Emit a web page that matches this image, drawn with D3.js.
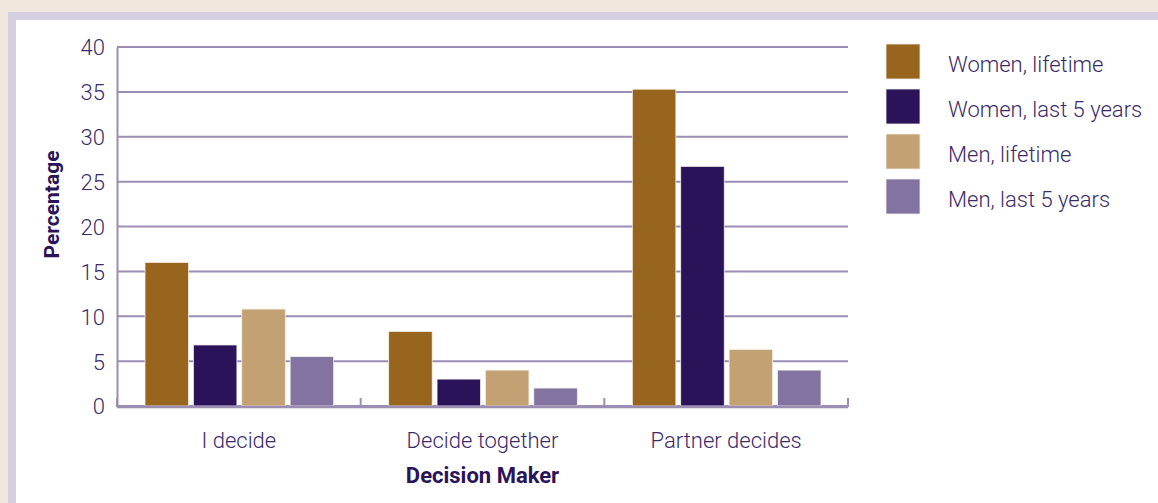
<!DOCTYPE html>
<html>
<head>
<meta charset="utf-8">
<script src="https://cdn.jsdelivr.net/npm/d3@7"></script>
<style>
  body { margin: 0; background: #f0e8dc; }
  svg { display: block; font-family: "Roboto", "Liberation Sans", sans-serif; }
</style>
</head>
<body>
<div id="chart"></div>
<script>
// data
const categories = ["I decide", "Decide together", "Partner decides"];
const seriesNames = ["Women, lifetime", "Women, last 5 years", "Men, lifetime", "Men, last 5 years"];
const womenLifetime = [16.0, 8.3, 35.3];
const womenLast5 = [6.8, 3.0, 26.7];
const menLifetime = [10.8, 4.0, 6.3];
const menLast5 = [5.5, 2.0, 4.0];
const yTicks = [0, 5, 10, 15, 20, 25, 30, 35, 40];

const seriesValues = [womenLifetime, womenLast5, menLifetime, menLast5];
const colors = ["#98651e", "#2b1359", "#c4a173", "#8273a0"];
const textColor = "#3b2a6b";
const gridColor = "#9b8db3";

const width = 1158, height = 503;
const margin = {top: 47, right: 310, bottom: 97, left: 117};
const plotW = width - margin.left - margin.right;
const plotH = height - margin.top - margin.bottom;

const svg = d3.select("#chart").append("svg")
  .attr("width", width)
  .attr("height", height);

// frame: beige page, lavender border, white panel
svg.append("rect").attr("x", 0).attr("y", 0).attr("width", width).attr("height", height).attr("fill", "#f0e8dc");
svg.append("rect").attr("x", 8).attr("y", 12).attr("width", width).attr("height", height).attr("fill", "#d5d0e1");
svg.append("rect").attr("x", 16).attr("y", 20).attr("width", width).attr("height", height).attr("fill", "#ffffff");

const main = svg.append("g")
  .attr("transform", "translate(" + margin.left + "," + margin.top + ")");

const x0 = d3.scaleBand().domain(categories).range([0, plotW]);
const x1 = d3.scaleBand().domain(seriesNames).range([28, x0.bandwidth() - 27]).paddingInner(0.1);
const y = d3.scaleLinear().domain([0, 40]).range([plotH, 0]);

// grid lines
main.append("g")
  .selectAll("line")
  .data(yTicks)
  .join("line")
  .attr("x1", 0).attr("x2", plotW)
  .attr("y1", d => y(d)).attr("y2", d => y(d))
  .attr("stroke", gridColor)
  .attr("stroke-width", 2);

// y axis
const yAxis = d3.axisLeft(y).tickValues(yTicks).tickSize(0).tickPadding(12);
const yG = main.append("g").call(yAxis);
yG.select(".domain").attr("stroke", gridColor).attr("stroke-width", 2);
yG.selectAll("text")
  .attr("fill", textColor)
  .style("font-size", "22px")
  .style("font-weight", "300")
  .style("font-family", "Roboto, sans-serif")
  .attr("dy", "0.36em");

// bars
const groups = main.append("g")
  .selectAll("g")
  .data(categories)
  .join("g")
  .attr("transform", d => "translate(" + x0(d) + ",0)");

groups.selectAll("rect")
  .data((d, i) => seriesNames.map((s, j) => ({series: s, value: seriesValues[j][i], color: colors[j]})))
  .join("rect")
  .attr("x", d => x1(d.series))
  .attr("width", x1.bandwidth())
  .attr("y", d => y(d.value))
  .attr("height", d => plotH - y(d.value))
  .attr("fill", d => d.color)
  .attr("stroke", "#f3eee8")
  .attr("stroke-width", 0.8);

// x axis with upward ticks at band edges
main.append("line")
  .attr("x1", 0).attr("x2", plotW)
  .attr("y1", plotH + 1).attr("y2", plotH + 1)
  .attr("stroke", gridColor).attr("stroke-width", 2.5);

const edges = categories.map(c => x0(c)).concat([plotW]);
main.append("g")
  .selectAll("line")
  .data(edges)
  .join("line")
  .attr("x1", d => d).attr("x2", d => d)
  .attr("y1", plotH + 1).attr("y2", plotH - 8)
  .attr("stroke", gridColor).attr("stroke-width", 2);

main.append("g")
  .selectAll("text")
  .data(categories)
  .join("text")
  .attr("x", d => x0(d) + x0.bandwidth() / 2)
  .attr("y", plotH + 42)
  .attr("text-anchor", "middle")
  .attr("fill", textColor)
  .style("font-size", "22px")
  .style("font-weight", "300")
  .text(d => d);

// axis titles
main.append("text")
  .attr("x", x0("Decide together") + x0.bandwidth() / 2)
  .attr("y", plotH + 77)
  .attr("text-anchor", "middle")
  .attr("fill", "#2b1359")
  .style("font-size", "22px")
  .style("font-weight", "bold")
  .text("Decision Maker");

main.append("text")
  .attr("transform", "rotate(-90)")
  .attr("x", -(plotH / 2) + 22)
  .attr("y", -58)
  .attr("text-anchor", "middle")
  .attr("fill", "#2b1359")
  .style("font-size", "21px")
  .style("font-weight", "bold")
  .text("Percentage");

// legend
const legend = svg.append("g").attr("transform", "translate(886,44)");
const legendItems = legend.selectAll("g")
  .data(seriesNames)
  .join("g")
  .attr("transform", (d, i) => "translate(0," + (i * 45) + ")");

legendItems.append("rect")
  .attr("width", 34).attr("height", 35)
  .attr("fill", (d, i) => colors[i])
  .attr("stroke", "#f3eee8").attr("stroke-width", 0.8);

legendItems.append("text")
  .attr("x", 62)
  .attr("y", 28)
  .attr("fill", textColor)
  .style("font-size", "22px")
  .style("font-weight", "300")
  .text(d => d);
</script>
</body>
</html>
